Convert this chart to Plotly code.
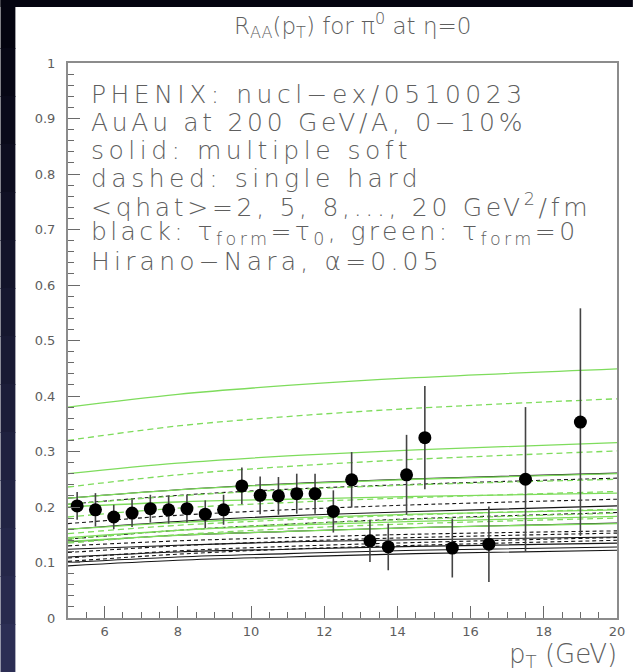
import plotly.graph_objects as go

# ---------------- data ----------------
pt_data = [5.25, 5.75, 6.25, 6.75, 7.25, 7.75, 8.25, 8.75, 9.25, 9.75, 10.25, 10.75,
           11.25, 11.75, 12.25, 12.75, 13.25, 13.75, 14.25, 14.75, 15.5, 16.5, 17.5, 19.0]
raa_data = [0.202, 0.195, 0.182, 0.189, 0.197, 0.195, 0.197, 0.187, 0.195, 0.238, 0.221, 0.220,
            0.224, 0.224, 0.192, 0.249, 0.139, 0.128, 0.258, 0.325, 0.126, 0.133, 0.250, 0.353]
raa_err = [0.025, 0.030, 0.022, 0.025, 0.025, 0.025, 0.025, 0.025, 0.027, 0.033, 0.034, 0.034,
           0.036, 0.036, 0.038, 0.050, 0.038, 0.042, 0.072, 0.093, 0.053, 0.068, 0.130, 0.205]

pt_curve = [5.0, 8.0, 11.0, 14.5, 20.0]
qhat_values = [2, 5, 8, 11, 14, 17, 20]

green_solid = [
    [0.380, 0.403, 0.419, 0.433, 0.449],
    [0.260, 0.279, 0.292, 0.303, 0.316],
    [0.216, 0.231, 0.241, 0.250, 0.260],
    [0.200, 0.209, 0.214, 0.219, 0.225],
    [0.160, 0.172, 0.180, 0.187, 0.195],
    [0.145, 0.158, 0.167, 0.174, 0.183],
    [0.138, 0.149, 0.156, 0.163, 0.170],
]
green_dashed = [
    [0.320, 0.346, 0.363, 0.378, 0.395],
    [0.236, 0.258, 0.273, 0.286, 0.301],
    [0.205, 0.220, 0.231, 0.240, 0.250],
    [0.182, 0.198, 0.208, 0.217, 0.228],
    [0.152, 0.167, 0.177, 0.186, 0.196],
    [0.142, 0.158, 0.169, 0.178, 0.189],
    [0.135, 0.150, 0.161, 0.170, 0.180],
]
black_solid = [
    [0.216, 0.231, 0.242, 0.251, 0.261],
    [0.160, 0.174, 0.184, 0.192, 0.202],
    [0.137, 0.149, 0.156, 0.163, 0.171],
    [0.124, 0.131, 0.137, 0.141, 0.146],
    [0.110, 0.119, 0.124, 0.129, 0.135],
    [0.100, 0.110, 0.116, 0.122, 0.128],
    [0.094, 0.104, 0.110, 0.116, 0.122],
]
black_dashed = [
    [0.205, 0.221, 0.232, 0.241, 0.252],
    [0.170, 0.185, 0.195, 0.204, 0.214],
    [0.142, 0.158, 0.169, 0.179, 0.190],
    [0.130, 0.139, 0.145, 0.151, 0.157],
    [0.118, 0.130, 0.138, 0.145, 0.153],
    [0.108, 0.121, 0.129, 0.136, 0.145],
    [0.102, 0.115, 0.124, 0.131, 0.140],
]

title_text = "R<sub>AA</sub>(p<sub>T</sub>) for π<sup>0</sup> at η=0"
info_lines = [
    "PHENIX: nucl−ex/0510023",
    "AuAu at 200 GeV/A, 0−10%",
    "solid: multiple soft",
    "dashed: single hard",
    "&lt;qhat&gt;=2, 5, 8,..., 20 GeV<sup>2</sup>/fm",
    "black: τ<sub>form</sub>=τ<sub>0</sub>, green: τ<sub>form</sub>=0",
    "Hirano−Nara, α=0.05",
]
xtitle_text = "p<sub>T</sub> (GeV)"

# ---------------- figure ----------------
W, H = 637, 672
ML, MR, MT, MB = 68, 16, 63, 54
PW, PH = W - ML - MR, H - MT - MB

def px2x(px):
    return (px - ML) / PW

def py2y(py):
    return (H - MB - py) / PH

GREEN = "#7edc5c"
BLACK = "#151515"
TXT = "#5e5e5e"
FONT = "DejaVu Sans"

fig = go.Figure()

groups = [
    (black_solid, BLACK, "solid", 1.1),
    (black_dashed, BLACK, "4px,3px", 1.1),
    (green_dashed, GREEN, "6px,4px", 1.3),
    (green_solid, GREEN, "solid", 1.3),
]
for curves, col, dash, w in groups:
    for q, vals in zip(qhat_values, curves):
        fig.add_trace(go.Scatter(
            x=pt_curve, y=vals, mode="lines",
            line=dict(color=col, width=w, dash=dash, shape="spline"),
            hoverinfo="skip", showlegend=False, name=f"qhat={q}"))

fig.add_trace(go.Scatter(
    x=pt_data, y=raa_data, mode="markers",
    marker=dict(color="black", size=13),
    error_y=dict(type="data", array=raa_err, color="#444444", thickness=1.6, width=0),
    showlegend=False, name="PHENIX"))

# dark border strips
shapes = []
top_col = (4, 4, 16)
bot_col = (44, 46, 84)
nseg = 14
for i in range(nseg):
    t = i / (nseg - 1)
    c = tuple(int(top_col[k] + (bot_col[k] - top_col[k]) * t) for k in range(3))
    y0 = i * H / nseg
    y1 = (i + 1) * H / nseg + 1
    shapes.append(dict(type="rect", xref="paper", yref="paper",
                       x0=px2x(0), x1=px2x(15), y0=py2y(y1), y1=py2y(y0),
                       fillcolor="rgb(%d,%d,%d)" % c, line=dict(width=0), layer="above"))
shapes.append(dict(type="rect", xref="paper", yref="paper",
                   x0=px2x(0), x1=px2x(W), y0=py2y(7), y1=py2y(0),
                   fillcolor="rgb(4,4,16)", line=dict(width=0), layer="above"))

annotations = [dict(text=title_text, xref="paper", yref="paper",
                    x=px2x(355), y=py2y(25), xanchor="center", yanchor="middle",
                    showarrow=False, font=dict(family=FONT, size=23, color=TXT, weight=300))]
line_y0, line_dy = 95, 27.7
spacings = [4.5, 3.7, 4.5, 4.5, 3.7, 3.4, 4.2]
for i, (t, sp) in enumerate(zip(info_lines, spacings)):
    annotations.append(dict(text='<span style="letter-spacing:%.1fpx">' % sp + t + '</span>',
                            xref="paper", yref="paper",
                            x=px2x(89), y=py2y(line_y0 + i * line_dy),
                            xanchor="left", yanchor="middle", showarrow=False,
                            font=dict(family=FONT, size=25, color=TXT, weight=300)))
annotations.append(dict(text=xtitle_text, xref="paper", yref="paper",
                        x=px2x(623), y=py2y(655), xanchor="right", yanchor="middle",
                        showarrow=False, font=dict(family=FONT, size=26, color=TXT, weight=300)))

axis_common = dict(showline=True, linecolor="#8c8c8c", linewidth=2, mirror=True,
                   ticks="inside", ticklen=12, tickcolor="#6a6a6a", tickwidth=1.2,
                   showgrid=False, zeroline=False,
                   tickfont=dict(family=FONT, size=13, color=TXT))

fig.update_layout(
    width=W, height=H,
    margin=dict(l=ML, r=MR, t=MT, b=MB),
    paper_bgcolor="white", plot_bgcolor="white",
    xaxis=dict(range=[5, 20], tick0=6, dtick=2,
               minor=dict(ticks="inside", ticklen=6, dtick=0.5, tick0=5,
                          tickcolor="#6a6a6a", showgrid=False),
               **axis_common),
    yaxis=dict(range=[0, 1], tick0=0, dtick=0.1, ticklabelstandoff=8,
               minor=dict(ticks="inside", ticklen=6, dtick=0.02, tick0=0,
                          tickcolor="#6a6a6a", showgrid=False),
               **axis_common),
    shapes=shapes, annotations=annotations,
)

fig.write_html("out.html")
